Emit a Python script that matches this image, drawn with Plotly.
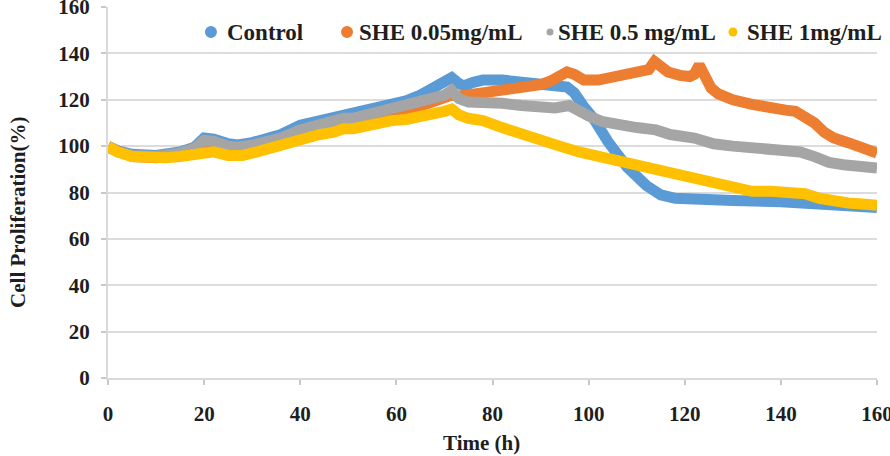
import plotly.graph_objects as go

# ---------------- data ----------------
ctrl_t = [0, 2, 5, 10, 15, 18, 20, 22, 25, 27, 30, 33, 36, 40, 44, 47, 49, 51, 53, 56, 59, 62, 65, 68, 70,
          71.5, 73, 74, 76, 78, 82, 86, 90, 93, 95.5, 97, 99, 101, 104, 108, 112, 115, 118, 122, 130, 140,
          145, 150, 155, 160]
ctrl_v = [100, 98, 96.5, 96, 97.5, 99.5, 103.5, 103, 101, 100.5, 101.5, 103, 105, 109, 111, 112.5, 113.5, 113.5,
          114.5, 116, 117.5, 119.5, 122, 125, 127, 129.5, 127, 126, 127.5, 128.5, 128.5, 128, 127, 126, 125.5,
          123, 117, 112, 102, 91, 83, 79, 77.5, 77, 76.5, 76, 75.5, 74.5, 74, 73.5]

she005_t = [0, 5, 10, 15, 20, 25, 30, 36, 40, 44, 49, 51, 56, 62, 68, 71.5, 73, 75, 78, 82, 86, 88, 90, 92,
            94, 95.5, 97, 99, 102, 105, 108, 111, 112.5, 113.7, 115, 116.5, 119, 121, 122, 123, 124, 125.5,
            127, 130, 134, 138, 141, 143, 145, 147, 149, 151, 154, 157, 160]
she005_v = [99.5, 95.5, 95, 96.5, 101, 98.5, 99.5, 102.5, 106, 108.5, 111, 111, 112, 115, 119, 122, 121.5,
            122, 122.5, 123.5, 124.5, 125, 126.5, 128, 130, 132, 131, 128.5, 128.5, 129.5, 130.5, 131.5, 133,
            136.5, 134, 132, 130.5, 130, 131, 135, 131, 125, 122.5, 120, 118, 116, 115.5, 115, 113, 110, 106,
            103.5, 101.5, 99, 97]

she05_t = [0, 2, 5, 10, 15, 18, 20, 22, 25, 27, 30, 33, 36, 40, 44, 47, 49, 51, 53, 56, 59, 62, 65, 68, 70,
           71.5, 73, 75, 78, 82, 86, 90, 93, 96, 98, 100, 103, 106, 110, 114, 117, 122, 126, 130, 135, 140,
           144, 147, 150, 153, 156, 160]
she05_v = [100, 97.5, 96, 95.5, 97, 99, 102.5, 102, 100, 99.5, 100.5, 102, 103.5, 107, 109.5, 111, 112, 112,
           113, 114, 115.5, 117, 119, 121, 122, 124, 120.5, 119, 119, 118.5, 117.5, 117, 116.5, 117.5,
           115, 113, 110.5, 109, 108, 107, 105, 103.5, 101, 100, 99, 98.5, 97.5, 95.5, 93, 92, 91.5, 90.5]

she1_t = [0, 2, 5, 8, 12, 15, 18, 20, 22, 25, 28, 31, 34, 37, 40, 44, 47, 49, 51, 53, 56, 59, 62, 65, 68,
          70, 71.5, 73, 75, 78, 82, 86, 90, 94, 98, 102, 106, 110, 114, 118, 122, 126, 130, 134, 138, 142,
          145, 148, 151, 154, 157, 160]
she1_v = [100, 97.5, 95.5, 95, 95, 95.5, 96.5, 98, 97.5, 96, 96, 97.5, 99.5, 101.5, 103.5, 105, 106, 107.5,
          107.5, 108.5, 109.5, 111, 111.5, 112.5, 114, 115, 116, 113.5, 112, 111, 108, 105, 102.5, 100, 97.5,
          95.5, 93.5, 91.5, 89.5, 88, 86, 83.5, 81.5, 80.5, 80.5, 80.5, 79.5, 77.5, 76, 75.5, 75, 74.5]

series_names = ["Control", "SHE 0.05mg/mL", "SHE 0.5 mg/mL", "SHE 1mg/mL"]
series_t = [ctrl_t, she005_t, she05_t, she1_t]
series_v = [ctrl_v, she005_v, she05_v, she1_v]
colors = ["#5B9BD5", "#ED7D31", "#A5A5A5", "#FFC000"]

x_ticks = [0, 20, 40, 60, 80, 100, 120, 140, 160]
y_ticks = [0, 20, 40, 60, 80, 100, 120, 140, 160]

# legend layout (paper coordinates) and marker sizes
legend_marker_x = [0.1339, 0.3108, 0.5748, 0.8127]
legend_text_x = [0.1521, 0.3238, 0.5826, 0.8283]
legend_marker_size = [12, 12, 7, 9]
legend_y = 0.9326

SERIF = "Times New Roman, Liberation Serif, serif"
TXT = "#1e1e1e"

fig = go.Figure()
for name, t, v, c in zip(series_names, series_t, series_v, colors):
    fig.add_trace(go.Scatter(x=t, y=v, mode="lines", name=name,
                             line=dict(color=c, width=11), showlegend=False,
                             hoverinfo="x+y+name"))

annotations = []
shapes = []
for name, mx, tx, ms, c in zip(series_names, legend_marker_x, legend_text_x, legend_marker_size, colors):
    shapes.append(dict(type="circle", xref="paper", yref="paper", xsizemode="pixel", ysizemode="pixel",
                       xanchor=mx, yanchor=legend_y, x0=-ms / 2, x1=ms / 2, y0=-ms / 2, y1=ms / 2,
                       fillcolor=c, line=dict(width=0)))
    annotations.append(dict(text=name, xref="paper", yref="paper", x=tx, y=legend_y, xanchor="left",
                            yanchor="middle", showarrow=False,
                            font=dict(family=SERIF, size=23, color=TXT, weight="bold")))

annotations.append(dict(text="Time (h)", xref="paper", yref="paper", x=0.486, y=-0.175,
                        xanchor="center", yanchor="middle", showarrow=False,
                        font=dict(family=SERIF, size=21, color=TXT, weight="bold")))
annotations.append(dict(text="Cell Proliferation(%)", xref="paper", yref="paper", x=-0.117, y=0.445,
                        xanchor="center", yanchor="middle", textangle=-90, showarrow=False,
                        font=dict(family=SERIF, size=21, color=TXT, weight="bold")))

fig.update_layout(
    width=890, height=456,
    margin=dict(l=108, r=13, t=7, b=78, autoexpand=False),
    paper_bgcolor="white", plot_bgcolor="white",
    showlegend=False,
    annotations=annotations, shapes=shapes,
    xaxis=dict(range=[0, 160], tickvals=x_ticks, ticktext=[str(v) for v in x_ticks],
               showgrid=False, zeroline=False, showline=True, linecolor="#d9d9d9", linewidth=2,
               ticks="outside", ticklen=5, tickcolor="#c8c8c8", tickwidth=1.5,
               tickfont=dict(family=SERIF, size=21, color=TXT, weight="bold"),
               ticklabelstandoff=11, ticklabeloverflow="allow", automargin=False),
    yaxis=dict(range=[0, 160], tickvals=y_ticks, ticktext=[str(v) for v in y_ticks],
               showgrid=True, gridcolor="#dcdcdc", gridwidth=1.5, zeroline=False,
               showline=True, linecolor="#d9d9d9", linewidth=2,
               ticks="outside", ticklen=5, tickcolor="#c8c8c8", tickwidth=1.5,
               tickfont=dict(family=SERIF, size=21, color=TXT, weight="bold"),
               ticklabelstandoff=7, ticklabeloverflow="allow", automargin=False),
)

fig.write_html("out.html")
